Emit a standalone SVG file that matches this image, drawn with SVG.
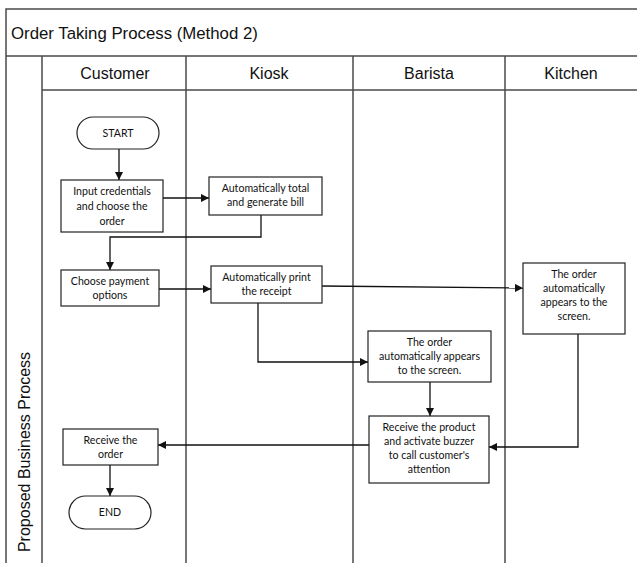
<svg xmlns="http://www.w3.org/2000/svg" width="637" height="563" viewBox="0 0 637 563">
  <defs>
    <style>
      .frame { fill: none; stroke: #4a4a4a; stroke-width: 1.5; }
      .node rect { fill: #ffffff; stroke: #222222; stroke-width: 1.2; }
      .lbl { font-family: "Lato", "Open Sans", sans-serif; font-size: 10.6px; fill: #111111; text-anchor: middle; }
      .hdr { font-family: "Liberation Sans", Arial, sans-serif; font-size: 16px; fill: #111111; text-anchor: middle; }
      .title { font-family: "Liberation Sans", Arial, sans-serif; font-size: 16.8px; fill: #111111; }
      .conn path { fill: none; stroke: #111111; stroke-width: 1.3; }
    </style>
    <marker id="arrow" viewBox="0 0 10 10" refX="10" refY="5" markerWidth="8" markerHeight="8" markerUnits="userSpaceOnUse" orient="auto">
      <path d="M0,0 L10,5 L0,10 z" fill="#111111"/>
    </marker>
  </defs>

  <rect width="637" height="563" fill="#ffffff"/>

  <!-- pool frame, title row, header row and lane dividers -->
  <g id="pool">
    <path class="frame" d="M637,9 H6 V563"/>
    <path class="frame" d="M6,56 H637"/>
    <path class="frame" d="M42,90 H637"/>
    <path class="frame" d="M42,56 V563"/>
    <path class="frame" d="M186,56 V563"/>
    <path class="frame" d="M353,56 V563"/>
    <path class="frame" d="M505,56 V563"/>
    <text class="title" x="11" y="39">Order Taking Process (Method 2)</text>
    <text class="hdr" x="115" y="79">Customer</text>
    <text class="hdr" x="269" y="79">Kiosk</text>
    <text class="hdr" x="429" y="79">Barista</text>
    <text class="hdr" x="571" y="79">Kitchen</text>
    <text class="hdr" font-size="17" transform="translate(30,452) rotate(-90)">Proposed Business Process</text>
  </g>

  <!-- connectors -->
  <g id="connectors" class="conn">
    <path d="M119,149 V180" marker-end="url(#arrow)"/>
    <path d="M163,198 H209" marker-end="url(#arrow)"/>
    <path d="M261,215 V237 H110 V270" marker-end="url(#arrow)"/>
    <path d="M159,289 H211" marker-end="url(#arrow)"/>
    <path d="M322,286 L523,288" marker-end="url(#arrow)"/>
    <path d="M258,303 V362 H368" marker-end="url(#arrow)"/>
    <path d="M430,382 V416" marker-end="url(#arrow)"/>
    <path d="M578,334 V447 H489" marker-end="url(#arrow)"/>
    <path d="M369,445 H158" marker-end="url(#arrow)"/>
    <path d="M110,465 V496" marker-end="url(#arrow)"/>
  </g>

  <g id="start" class="node">
    <rect x="77" y="117" width="82" height="32" rx="16" ry="16"/>
    <text class="lbl" x="118" y="136.5">START</text>
  </g>

  <g id="input-credentials" class="node">
    <rect x="61" y="180" width="102" height="52"/>
    <text class="lbl" x="112" y="195">Input credentials</text>
    <text class="lbl" x="112" y="210">and choose the</text>
    <text class="lbl" x="112" y="225">order</text>
  </g>

  <g id="total-bill" class="node">
    <rect x="209" y="177" width="113" height="38"/>
    <text class="lbl" x="265.5" y="192">Automatically total</text>
    <text class="lbl" x="265.5" y="206">and generate bill</text>
  </g>

  <g id="payment-options" class="node">
    <rect x="61" y="270" width="98" height="36"/>
    <text class="lbl" x="110" y="285">Choose payment</text>
    <text class="lbl" x="110" y="299">options</text>
  </g>

  <g id="print-receipt" class="node">
    <rect x="211" y="266" width="111" height="37"/>
    <text class="lbl" x="266.5" y="281">Automatically print</text>
    <text class="lbl" x="266.5" y="295">the receipt</text>
  </g>

  <g id="kitchen-screen" class="node">
    <rect x="523" y="263" width="102" height="71"/>
    <text class="lbl" x="574" y="278">The order</text>
    <text class="lbl" x="574" y="292">automatically</text>
    <text class="lbl" x="574" y="306">appears to the</text>
    <text class="lbl" x="574" y="320">screen.</text>
  </g>

  <g id="barista-screen" class="node">
    <rect x="368" y="331" width="123" height="51"/>
    <text class="lbl" x="429.5" y="346">The order</text>
    <text class="lbl" x="429.5" y="360">automatically appears</text>
    <text class="lbl" x="429.5" y="374">to the screen.</text>
  </g>

  <g id="receive-product" class="node">
    <rect x="369" y="416" width="120" height="67"/>
    <text class="lbl" x="429" y="431">Receive the product</text>
    <text class="lbl" x="429" y="445">and activate buzzer</text>
    <text class="lbl" x="429" y="459">to call customer's</text>
    <text class="lbl" x="429" y="473">attention</text>
  </g>

  <g id="receive-order" class="node">
    <rect x="63" y="429" width="95" height="36"/>
    <text class="lbl" x="110.5" y="444">Receive the</text>
    <text class="lbl" x="110.5" y="458">order</text>
  </g>

  <g id="end" class="node">
    <rect x="69" y="496" width="82" height="33" rx="16.5" ry="16.5"/>
    <text class="lbl" x="110" y="516">END</text>
  </g>
</svg>
